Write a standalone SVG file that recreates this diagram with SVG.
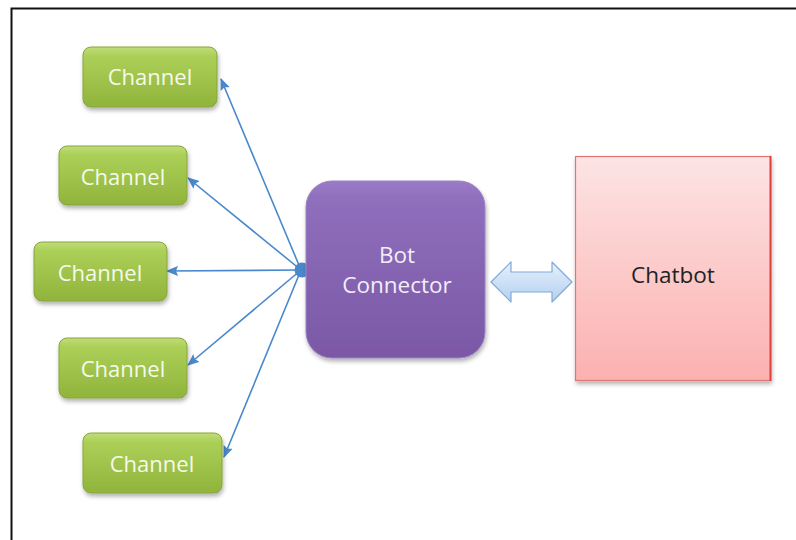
<svg xmlns="http://www.w3.org/2000/svg" width="796" height="540" viewBox="0 0 796 540">
  <defs>
    <linearGradient id="gGreen" x1="0" y1="0" x2="0" y2="1">
      <stop offset="0" stop-color="#c0dd7a"/>
      <stop offset="0.15" stop-color="#accf58"/>
      <stop offset="1" stop-color="#90b43b"/>
    </linearGradient>
    <linearGradient id="gPurple" x1="0" y1="0" x2="0" y2="1">
      <stop offset="0" stop-color="#9a7bc6"/>
      <stop offset="0.1" stop-color="#8f6fbd"/>
      <stop offset="1" stop-color="#7a58a5"/>
    </linearGradient>
    <linearGradient id="gPink" x1="0" y1="0" x2="0" y2="1">
      <stop offset="0" stop-color="#fde4e4"/>
      <stop offset="1" stop-color="#fbb1b0"/>
    </linearGradient>
    <linearGradient id="gBlue" x1="0" y1="0" x2="0" y2="1">
      <stop offset="0" stop-color="#e6f0fc"/>
      <stop offset="1" stop-color="#b4d0f0"/>
    </linearGradient>
    <filter id="shadow" x="-10%" y="-10%" width="125%" height="130%">
      <feDropShadow dx="1" dy="3" stdDeviation="2" flood-color="#000" flood-opacity="0.3"/>
    </filter>
    <marker id="tip" viewBox="0 0 12 10" refX="11" refY="5" markerWidth="12" markerHeight="10" markerUnits="userSpaceOnUse" orient="auto">
      <path d="M0,0 L12,5 L0,10 L2,5 z" fill="#4a88cc"/>
    </marker>
  </defs>
  <style>
    .ch rect { fill: url(#gGreen); stroke: #86a63a; stroke-width: 1; filter: url(#shadow); }
    .ch text { font-family: "Open Sans", "Liberation Sans", sans-serif; font-size: 22px; fill: #f6faea; text-anchor: middle; }
    .link { stroke: #4a88cc; stroke-width: 1.6; fill: none; marker-end: url(#tip); }
    .big { font-family: "Open Sans", "Liberation Sans", sans-serif; font-size: 22.5px; text-anchor: middle; }
  </style>

  <!-- frame -->
  <path d="M11.5,540 V8.5 H796" fill="none" stroke="#111" stroke-width="2"/>

  <!-- connectors -->
  <g id="connectors">
    <line class="link" x1="301" y1="270" x2="221" y2="79"/>
    <line class="link" x1="301" y1="270" x2="188" y2="178"/>
    <line class="link" x1="301" y1="270" x2="167" y2="271"/>
    <line class="link" x1="301" y1="270" x2="188" y2="365"/>
    <line class="link" x1="301" y1="270" x2="224" y2="457"/>
    <circle cx="302" cy="270" r="7.5" fill="#4a88cc"/>
    <path d="M491,282 L511,262 L511,272 L552,272 L552,262 L572,282 L552,302 L552,292 L511,292 L511,302 z" fill="url(#gBlue)" stroke="#7faad8" stroke-width="1.2" stroke-linejoin="round"/>
  </g>

  <!-- channels -->
  <g id="channel1" class="ch">
    <rect x="83" y="47" width="134" height="60" rx="8"/>
    <text x="150" y="85">Channel</text>
  </g>
  <g id="channel2" class="ch">
    <rect x="59" y="146" width="128" height="59" rx="8"/>
    <text x="123" y="185">Channel</text>
  </g>
  <g id="channel3" class="ch">
    <rect x="34" y="242" width="133" height="59" rx="8"/>
    <text x="100" y="281">Channel</text>
  </g>
  <g id="channel4" class="ch">
    <rect x="59" y="338" width="128" height="60" rx="8"/>
    <text x="123" y="377">Channel</text>
  </g>
  <g id="channel5" class="ch">
    <rect x="83" y="433" width="139" height="60" rx="8"/>
    <text x="152" y="472">Channel</text>
  </g>

  <!-- bot connector -->
  <g id="botconnector">
    <rect x="306" y="181" width="179" height="177" rx="26" fill="url(#gPurple)" stroke="#9c82c4" stroke-width="1" filter="url(#shadow)"/>
    <text class="big" x="397" y="263" fill="#f3eef8">Bot</text>
    <text class="big" x="397" y="293" fill="#f3eef8">Connector</text>
  </g>

  <!-- chatbot -->
  <g id="chatbot">
    <rect x="575.5" y="156.5" width="195" height="224" fill="url(#gPink)" stroke="#e07474" stroke-width="1.2" filter="url(#shadow)"/>
    <line x1="770.5" y1="156" x2="770.5" y2="381" stroke="#e2403a" stroke-width="2"/>
    <text class="big" x="673" y="283" fill="#222">Chatbot</text>
  </g>
</svg>
